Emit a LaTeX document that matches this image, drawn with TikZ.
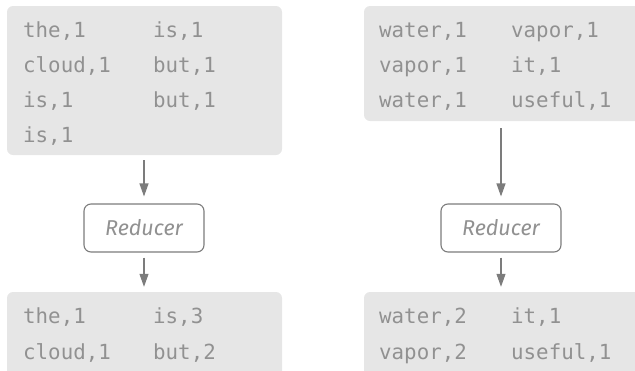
\documentclass[tikz,border=0pt]{standalone}
\usepackage{fontspec}
\setmonofont{DejaVu Sans Mono}
\newfontfamily\redfont{Fira Sans}
\usetikzlibrary{arrows.meta}
\definecolor{boxfill}{HTML}{E6E6E6}
\definecolor{txtgray}{HTML}{919191}
\definecolor{linegray}{HTML}{7C7C7C}
\tikzset{
  databox/.style={draw=none, fill=boxfill, rounded corners=6pt, inner sep=0pt},
  kv/.style={anchor=base west, inner sep=0pt, text=txtgray, font=\ttfamily\fontsize{20.8}{24}\selectfont},
  redbox/.style={draw=linegray, line width=1.1pt, rounded corners=7pt, fill=white,
    minimum width=120pt, minimum height=48pt, inner sep=0pt, text=txtgray,
    font=\redfont\itshape\fontsize{21.5}{25}\selectfont},
  arr/.style={draw=linegray, line width=1.1pt, -{Triangle[length=13pt,width=9pt]}},
}
\begin{document}
\begin{tikzpicture}[x=1pt,y=-1pt]
\useasboundingbox (0,0) rectangle (635,370);
\clip (0,0) rectangle (635,370);
% boxes
\node[databox, minimum width=275pt, minimum height=149pt] (in1) at (144.5,80.5) {};
\node[databox, minimum width=290pt, minimum height=115pt] (in2) at (509,63.5) {};
\node[databox, minimum width=275pt, minimum height=100pt] (out1) at (144.5,342) {};
\node[databox, minimum width=290pt, minimum height=100pt] (out2) at (509,342) {};
% reducers
\node[redbox] (red1) at (144,228) {Reducer};
\node[redbox] (red2) at (501,228) {Reducer};
% input left
\node[kv] (a1) at (23,37) {the,1};
\node[kv] (a2) at (153,37) {is,1};
\node[kv] (a3) at (23,72) {cloud,1};
\node[kv] (a4) at (153,72) {but,1};
\node[kv] (a5) at (23,107) {is,1};
\node[kv] (a6) at (153,107) {but,1};
\node[kv] (a7) at (23,142) {is,1};
% input right
\node[kv] (b1) at (379,37) {water,1};
\node[kv] (b2) at (511,37) {vapor,1};
\node[kv] (b3) at (379,72) {vapor,1};
\node[kv] (b4) at (511,72) {it,1};
\node[kv] (b5) at (379,107) {water,1};
\node[kv] (b6) at (511,107) {useful,1};
% output left
\node[kv] (c1) at (23,323) {the,1};
\node[kv] (c2) at (153,323) {is,3};
\node[kv] (c3) at (23,359) {cloud,1};
\node[kv] (c4) at (153,359) {but,2};
% output right
\node[kv] (d1) at (379,323) {water,2};
\node[kv] (d2) at (511,323) {it,1};
\node[kv] (d3) at (379,359) {vapor,2};
\node[kv] (d4) at (511,359) {useful,1};
% arrows
\draw[arr, shorten <=5pt, shorten >=7pt] (in1.south -| red1.north) -- (red1.north);
\draw[arr, shorten <=5pt, shorten >=5pt] (red1.south) -- (out1.north -| red1.south);
\draw[arr, shorten <=7pt, shorten >=7pt] (in2.south -| red2.north) -- (red2.north);
\draw[arr, shorten <=5pt, shorten >=5pt] (red2.south) -- (out2.north -| red2.south);
\end{tikzpicture}
\end{document}
